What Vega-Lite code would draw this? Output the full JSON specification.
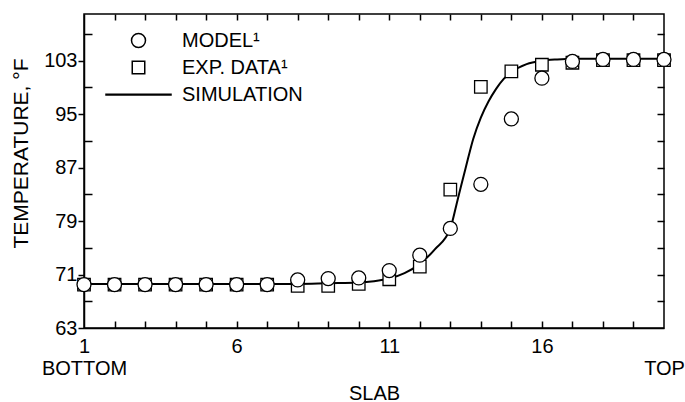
{
  "$schema": "https://vega.github.io/schema/vega-lite/v6.json",
  "width": 580,
  "height": 314,
  "autosize": "none",
  "padding": {"left": 84, "top": 14, "right": 21, "bottom": 74},
  "background": "white",
  "config": {
    "font": "Liberation Sans",
    "view": {"stroke": "#000000", "strokeWidth": 1.5},
    "axis": {
      "labelColor": "black", "titleColor": "black",
      "labelFont": "Liberation Sans", "titleFont": "Liberation Sans",
      "labelFontSize": 20, "titleFontSize": 20, "titleFontWeight": "normal",
      "grid": false
    }
  },
  "datasets": {
    "sim": [
      {"slab": 1, "temp": 69.6}, {"slab": 2, "temp": 69.6}, {"slab": 3, "temp": 69.6},
      {"slab": 4, "temp": 69.6}, {"slab": 5, "temp": 69.6}, {"slab": 6, "temp": 69.6},
      {"slab": 7, "temp": 69.6}, {"slab": 8, "temp": 69.6}, {"slab": 9, "temp": 69.7},
      {"slab": 10, "temp": 69.8}, {"slab": 10.5, "temp": 70.0}, {"slab": 11, "temp": 70.4},
      {"slab": 11.5, "temp": 71.2}, {"slab": 12, "temp": 72.6}, {"slab": 12.5, "temp": 74.8},
      {"slab": 13, "temp": 77.9}, {"slab": 13.25, "temp": 82.4}, {"slab": 13.5, "temp": 86.9},
      {"slab": 13.75, "temp": 91.3}, {"slab": 14, "temp": 94.5}, {"slab": 14.25, "temp": 96.9},
      {"slab": 14.5, "temp": 98.8}, {"slab": 14.75, "temp": 100.3}, {"slab": 15, "temp": 101.3},
      {"slab": 15.5, "temp": 102.5}, {"slab": 16, "temp": 103.0}, {"slab": 16.5, "temp": 103.2},
      {"slab": 17, "temp": 103.3}, {"slab": 18, "temp": 103.3}, {"slab": 19, "temp": 103.3},
      {"slab": 20, "temp": 103.3}
    ],
    "exp": [
      {"series": "EXP. DATA¹", "slab": 1, "temp": 69.5},
      {"series": "EXP. DATA¹", "slab": 2, "temp": 69.5},
      {"series": "EXP. DATA¹", "slab": 3, "temp": 69.5},
      {"series": "EXP. DATA¹", "slab": 4, "temp": 69.5},
      {"series": "EXP. DATA¹", "slab": 5, "temp": 69.5},
      {"series": "EXP. DATA¹", "slab": 6, "temp": 69.5},
      {"series": "EXP. DATA¹", "slab": 7, "temp": 69.5},
      {"series": "EXP. DATA¹", "slab": 8, "temp": 69.3},
      {"series": "EXP. DATA¹", "slab": 9, "temp": 69.3},
      {"series": "EXP. DATA¹", "slab": 10, "temp": 69.6},
      {"series": "EXP. DATA¹", "slab": 11, "temp": 70.3},
      {"series": "EXP. DATA¹", "slab": 12, "temp": 72.2},
      {"series": "EXP. DATA¹", "slab": 13, "temp": 83.7},
      {"series": "EXP. DATA¹", "slab": 14, "temp": 99.1},
      {"series": "EXP. DATA¹", "slab": 15, "temp": 101.4},
      {"series": "EXP. DATA¹", "slab": 16, "temp": 102.4},
      {"series": "EXP. DATA¹", "slab": 17, "temp": 102.7},
      {"series": "EXP. DATA¹", "slab": 18, "temp": 103.1},
      {"series": "EXP. DATA¹", "slab": 19, "temp": 103.1},
      {"series": "EXP. DATA¹", "slab": 20, "temp": 103.1}
    ],
    "model": [
      {"series": "MODEL¹", "slab": 1, "temp": 69.5},
      {"series": "MODEL¹", "slab": 2, "temp": 69.5},
      {"series": "MODEL¹", "slab": 3, "temp": 69.5},
      {"series": "MODEL¹", "slab": 4, "temp": 69.5},
      {"series": "MODEL¹", "slab": 5, "temp": 69.5},
      {"series": "MODEL¹", "slab": 6, "temp": 69.5},
      {"series": "MODEL¹", "slab": 7, "temp": 69.5},
      {"series": "MODEL¹", "slab": 8, "temp": 70.2},
      {"series": "MODEL¹", "slab": 9, "temp": 70.4},
      {"series": "MODEL¹", "slab": 10, "temp": 70.5},
      {"series": "MODEL¹", "slab": 11, "temp": 71.6},
      {"series": "MODEL¹", "slab": 12, "temp": 73.9},
      {"series": "MODEL¹", "slab": 13, "temp": 77.9},
      {"series": "MODEL¹", "slab": 14, "temp": 84.5},
      {"series": "MODEL¹", "slab": 15, "temp": 94.3},
      {"series": "MODEL¹", "slab": 16, "temp": 100.4},
      {"series": "MODEL¹", "slab": 17, "temp": 102.9},
      {"series": "MODEL¹", "slab": 18, "temp": 103.2},
      {"series": "MODEL¹", "slab": 19, "temp": 103.2},
      {"series": "MODEL¹", "slab": 20, "temp": 103.2}
    ]
  },
  "layer": [
    {
      "data": {"name": "sim"},
      "mark": {"type": "line", "color": "black", "strokeWidth": 2, "interpolate": "monotone"},
      "encoding": {
        "x": {
          "field": "slab", "type": "quantitative",
          "scale": {"domain": [1, 20], "nice": false, "zero": false},
          "axis": {
            "orient": "bottom", "title": "SLAB",
            "values": [1,2,3,4,5,6,7,8,9,10,11,12,13,14,15,16,17,18,19,20],
            "ticks": false, "domainColor": "#000000", "domainWidth": 1.5,
            "labelPadding": 8,
            "labelExpr": "datum.value == 1 ? ['1', 'BOTTOM'] : datum.value == 20 ? [' ', 'TOP'] : (datum.value == 6 || datum.value == 11 || datum.value == 16) ? datum.label : ''",
            "labelOverlap": false, "labelBound": false, "labelFlush": false,
            "labelLineHeight": 22, "titlePadding": 5
          }
        },
        "y": {
          "field": "temp", "type": "quantitative",
          "scale": {"domain": [63, 110], "nice": false, "zero": false},
          "axis": {
            "orient": "left", "title": "TEMPERATURE, °F", "titleY": 139, "titleFontSize": 21,
            "values": [63,71,79,87,95,103],
            "tickSize": 6, "tickColor": "#000000", "tickWidth": 1.5,
            "domainColor": "#000000", "domainWidth": 1.5,
            "labelPadding": 1, "titlePadding": 12,
            "labelOverlap": false, "labelBound": false, "labelFlush": false
          }
        }
      }
    },
    {
      "data": {"name": "exp"},
      "mark": {"type": "point", "filled": true, "fill": "white", "stroke": "black", "strokeWidth": 1.3, "size": 625, "opacity": 1},
      "encoding": {
        "x": {
          "field": "slab", "type": "quantitative",
          "scale": {"domain": [1, 20], "nice": false, "zero": false},
          "axis": {
            "orient": "top", "offset": -314, "title": null, "labels": false, "domain": false,
            "values": [2,3,4,5,6,7,8,9,10,11,12,13,14,15,16,17,18,19],
            "tickSize": 7, "tickColor": "#000000", "tickWidth": 1.5
          }
        },
        "y": {
          "field": "temp", "type": "quantitative",
          "scale": {"domain": [63, 110], "nice": false, "zero": false},
          "axis": {
            "orient": "right", "offset": -580, "title": null, "labels": false, "domain": false,
            "values": [67,75,83,91,99,107],
            "tickSize": 8, "tickColor": "#000000", "tickWidth": 1.5
          }
        },
        "shape": {
          "field": "series", "type": "nominal",
          "scale": {
            "domain": ["MODEL¹", "EXP. DATA¹", "SIMULATION"],
            "range": [
              "M-0.56,0A0.56,0.56,0,1,0,0.56,0A0.56,0.56,0,1,0,-0.56,0Z",
              "M-0.5,-0.5H0.5V0.5H-0.5Z",
              "M-2.6,-0.03H2.6V0.03H-2.6Z"
            ]
          },
          "legend": {
            "orient": "none", "legendX": 41, "legendY": 13,
            "title": null, "symbolSize": 625,
            "labelFont": "Liberation Sans", "labelFontSize": 20, "labelColor": "black",
            "labelOffset": 30, "rowPadding": 3, "padding": 0
          }
        }
      }
    },
    {
      "data": {"name": "model"},
      "mark": {"type": "point", "filled": true, "fill": "white", "stroke": "black", "strokeWidth": 1.3, "size": 625, "opacity": 1},
      "encoding": {
        "x": {
          "field": "slab", "type": "quantitative",
          "scale": {"domain": [1, 20], "nice": false, "zero": false},
          "axis": {
            "orient": "bottom", "offset": -314, "title": null, "labels": false, "domain": false,
            "values": [2,3,4,5,6,7,8,9,10,11,12,13,14,15,16,17,18,19],
            "tickSize": 6, "tickColor": "#000000", "tickWidth": 1.5
          }
        },
        "y": {
          "field": "temp", "type": "quantitative",
          "scale": {"domain": [63, 110], "nice": false, "zero": false},
          "axis": {
            "orient": "left", "offset": -580, "title": null, "labels": false, "domain": false,
            "values": [67,71,75,79,83,87,91,95,99,107],
            "tickSize": 7, "tickColor": "#000000", "tickWidth": 1.5
          }
        },
        "shape": {
          "field": "series", "type": "nominal",
          "scale": {
            "domain": ["MODEL¹", "EXP. DATA¹", "SIMULATION"],
            "range": [
              "M-0.56,0A0.56,0.56,0,1,0,0.56,0A0.56,0.56,0,1,0,-0.56,0Z",
              "M-0.5,-0.5H0.5V0.5H-0.5Z",
              "M-2.6,-0.03H2.6V0.03H-2.6Z"
            ]
          }
        }
      }
    }
  ],
  "resolve": {"axis": {"x": "independent", "y": "independent"}}
}
